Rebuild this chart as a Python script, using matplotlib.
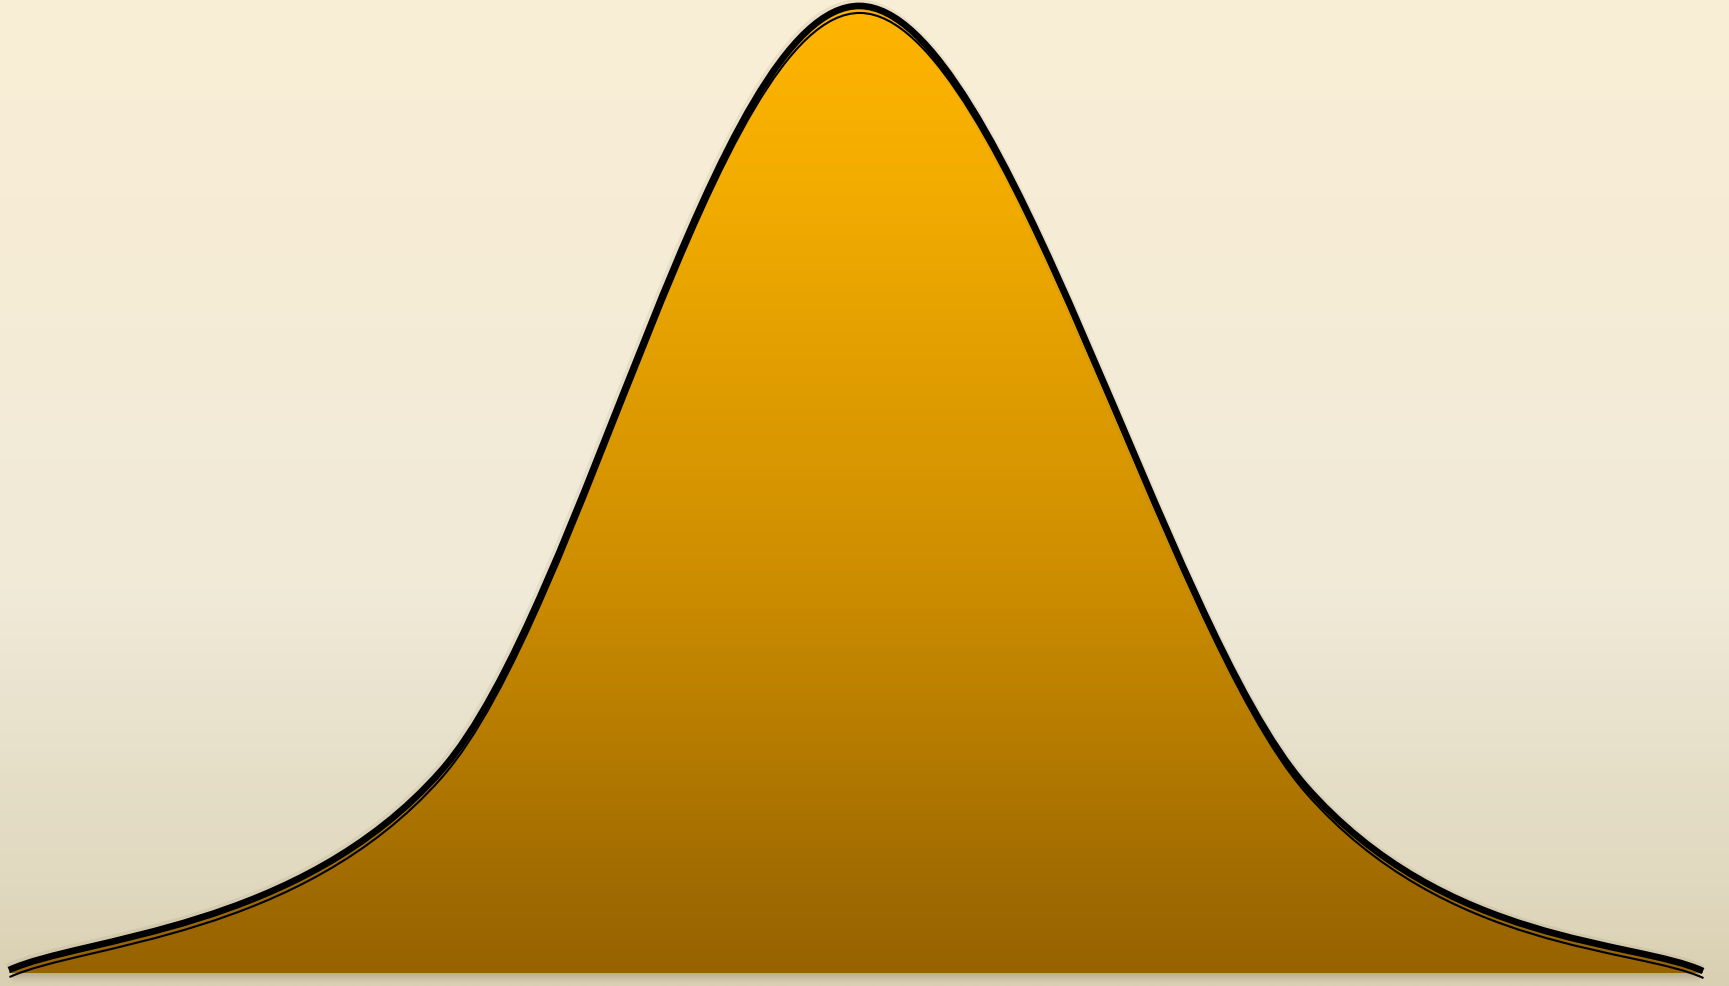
import numpy as np
import matplotlib
matplotlib.use("Agg")
import matplotlib.pyplot as plt
from matplotlib.path import Path
from matplotlib.patches import PathPatch
from matplotlib import transforms

# spline nodes (x position, height with peak = 100)
curve_x = [0.9, 44.1, 86.0, 130.5, 170.3]
curve_y = [0.3, 20.9, 100.0, 19.4, 0.2]

# colour stops (position 0 = top, 1 = bottom)
bg_stops = [0.0, 0.2, 0.6, 0.76, 0.91, 1.0]
bg_colors = ["#F9EFD7", "#F7EDD6", "#F0EAD8", "#E7E0CA", "#E0D8BE", "#D9CFB2"]
fill_stops = [0.0, 0.2, 0.6, 0.92, 1.0]
fill_colors = ["#FFB400", "#F2AC00", "#CD8D00", "#9F6A00", "#976300"]


def hex_rgb(h):
    h = h.lstrip("#")
    return [int(h[i:i + 2], 16) / 255 for i in (0, 2, 4)]


def gradient(stops, colors, n=400):
    t = np.linspace(0, 1, n)
    rgb = np.array([hex_rgb(c) for c in colors])
    out = np.zeros((n, 1, 3))
    for k in range(3):
        out[:, 0, k] = np.interp(t, stops, rgb[:, k])
    return out


def spline_path(xs, ys):
    # catmull-rom spline through the nodes (end nodes repeated), as beziers
    p = np.column_stack([xs, ys]).astype(float)
    pts = np.vstack([p[0], p, p[-1]])
    verts = [tuple(p[0])]
    codes = [Path.MOVETO]
    for i in range(1, len(pts) - 2):
        p0, p1, p2, p3 = pts[i - 1], pts[i], pts[i + 1], pts[i + 2]
        verts += [tuple(p1 + (p2 - p0) / 6), tuple(p2 - (p3 - p1) / 6), tuple(p2)]
        codes += [Path.CURVE4] * 3
    return verts, codes


fig = plt.figure(figsize=(17.29, 9.87), dpi=100)
ax = fig.add_axes([0, 0, 1, 1])
xmin, xmax = 0, 172.9
ymin, ymax = -1.344, 100.72

# background
ax.imshow(gradient(bg_stops, bg_colors), extent=(xmin, xmax, ymin, ymax),
          aspect="auto", interpolation="bilinear", zorder=0)

verts, codes = spline_path(curve_x, curve_y)
curve = Path(verts, codes)

# shadow under the base of the area
sh = np.zeros((40, 1, 4))
sh[:, 0, :3] = hex_rgb("#6B5A30")
sh[:, 0, 3] = np.linspace(0.45, 0.0, 40) ** 1.5
ax.imshow(sh, extent=(curve_x[0] + 0.3, curve_x[-1] - 0.3, -1.2, 0),
          aspect="auto", interpolation="bilinear", zorder=1)

# gradient area clipped to the curve
area = Path(verts + [(curve_x[-1], 0), (curve_x[0], 0), (curve_x[0], curve_y[0])],
            codes + [Path.LINETO, Path.LINETO, Path.CLOSEPOLY])
clip = PathPatch(area, facecolor="none", edgecolor="none")
ax.add_patch(clip)
im = ax.imshow(gradient(fill_stops, fill_colors), extent=(xmin, xmax, 0, 100.72),
               aspect="auto", interpolation="bilinear", zorder=2)
im.set_clip_path(clip)

# soft glow under the outline
glow = transforms.offset_copy(ax.transData, fig=fig, x=-1, y=1, units="dots")
ax.add_patch(PathPatch(curve, fill=False, edgecolor="#8a7a55", lw=8,
                       alpha=0.12, transform=glow, zorder=3, capstyle="butt"))

# thick outline and thin inner line
ax.add_patch(PathPatch(curve, fill=False, edgecolor="black", lw=4.8,
                       zorder=4, capstyle="butt", joinstyle="round"))
inner = transforms.offset_copy(ax.transData, fig=fig, x=0.5, y=-7, units="dots")
ax.add_patch(PathPatch(curve, fill=False, edgecolor="black", lw=1.5,
                       transform=inner, zorder=4, capstyle="butt"))

ax.set_xlim(xmin, xmax)
ax.set_ylim(ymin, ymax)
ax.axis("off")

fig.savefig("out.png", dpi=100)
